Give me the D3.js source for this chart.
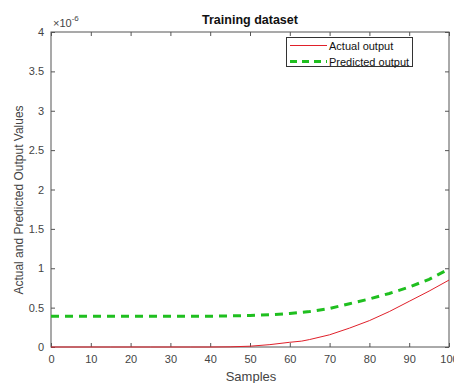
<!DOCTYPE html>
<html>
<head>
<meta charset="utf-8">
<script src="https://cdn.jsdelivr.net/npm/d3@7"></script>
<style>
body { margin: 0; background: #fff; }
text { font-family: "Liberation Sans", Arial, sans-serif; }
</style>
</head>
<body>
<script>
// samples and the two series (values in units of 1e-6)
var samples   = [0, 5, 10, 15, 20, 25, 30, 35, 40, 45, 50, 55, 60, 63, 65, 70, 75, 80, 85, 90, 95, 100];
var actual    = [0, 0, 0, 0, 0, 0, 0, 0, 0, 0.002, 0.01, 0.03, 0.06, 0.075, 0.095, 0.155, 0.24, 0.335, 0.45, 0.58, 0.71, 0.85];
var predicted = [0.39, 0.39, 0.39, 0.39, 0.39, 0.39, 0.39, 0.39, 0.39, 0.395, 0.40, 0.41, 0.425, 0.44, 0.45, 0.49, 0.55, 0.61, 0.68, 0.76, 0.86, 0.99];
var xTicks = [0, 10, 20, 30, 40, 50, 60, 70, 80, 90, 100];
var yTicks = [0, 0.5, 1, 1.5, 2, 2.5, 3, 3.5, 4];
var seriesNames = ["Actual output", "Predicted output"];

var W = 454, H = 383;
var m = {left: 51, right: 5, top: 32, bottom: 36};
var axCol = "#555", txtCol = "#444";

var svg = d3.select("body").append("svg").attr("width", W).attr("height", H);

var x = d3.scaleLinear().domain([0, 100]).range([m.left, W - m.right]);
var y = d3.scaleLinear().domain([0, 4]).range([H - m.bottom, m.top]);

// axes, ticks pointing inward, mirrored on top and right
function styleAxis(g) {
	g.select(".domain").remove();
	g.selectAll("line").attr("stroke", axCol);
	g.selectAll("text").attr("fill", txtCol).attr("font-size", 11);
}
svg.append("g").attr("transform", "translate(0," + (H - m.bottom) + ")")
	.call(d3.axisBottom(x).tickValues(xTicks).tickSizeInner(-4).tickSizeOuter(0).tickPadding(8))
	.call(styleAxis);
svg.append("g").attr("transform", "translate(0," + m.top + ")")
	.call(d3.axisTop(x).tickValues(xTicks).tickSizeInner(-4).tickSizeOuter(0).tickFormat(""))
	.call(styleAxis);
svg.append("g").attr("transform", "translate(" + m.left + ",0)")
	.call(d3.axisLeft(y).tickValues(yTicks).tickSizeInner(-4).tickSizeOuter(0).tickPadding(7).tickFormat(d3.format("~g")))
	.call(styleAxis);
svg.append("g").attr("transform", "translate(" + (W - m.right) + ",0)")
	.call(d3.axisRight(y).tickValues(yTicks).tickSizeInner(-4).tickSizeOuter(0).tickFormat(""))
	.call(styleAxis);

// box
svg.append("rect").attr("x", m.left).attr("y", m.top)
	.attr("width", W - m.left - m.right).attr("height", H - m.top - m.bottom)
	.attr("fill", "none").attr("stroke", axCol).attr("stroke-width", 1);

// lines
var line = d3.line().x(function(d) { return x(d[0]); }).y(function(d) { return y(d[1]); });
svg.append("path").datum(d3.zip(samples, predicted)).attr("d", line)
	.attr("fill", "none").attr("stroke", "#1fbf1f").attr("stroke-width", 3).attr("stroke-dasharray", "8,6");
svg.append("path").datum(d3.zip(samples, actual)).attr("d", line)
	.attr("fill", "none").attr("stroke", "#e0202a").attr("stroke-width", 1);

// exponent label
var ex = svg.append("text").attr("x", m.left + 2).attr("y", 27).attr("fill", txtCol).attr("font-size", 11);
ex.append("tspan").text("\u00d710");
ex.append("tspan").attr("dy", -6).attr("font-size", 8).text("-6");

// title and labels
svg.append("text").attr("x", 250).attr("y", 24).attr("text-anchor", "middle")
	.attr("font-size", 12.5).attr("font-weight", "bold").attr("fill", "#111").text("Training dataset");
svg.append("text").attr("x", 251).attr("y", 381).attr("text-anchor", "middle")
	.attr("font-size", 13).attr("fill", txtCol).text("Samples");
svg.append("text").attr("transform", "translate(23,200) rotate(-90)").attr("text-anchor", "middle")
	.attr("font-size", 12).attr("fill", txtCol).text("Actual and Predicted Output Values");

// legend
var lg = svg.append("g");
lg.append("rect").attr("x", 286.5).attr("y", 37.5).attr("width", 126).attr("height", 29)
	.attr("fill", "#fff").attr("stroke", "#333").attr("stroke-width", 1);
var legendStyles = [{c: "#e0202a", w: 1, d: null}, {c: "#1fbf1f", w: 3, d: "7,5"}];
seriesNames.forEach(function(name, i) {
	var ly = 45.5 + i * 16;
	lg.append("line").attr("x1", 290).attr("x2", 327).attr("y1", ly).attr("y2", ly)
		.attr("stroke", legendStyles[i].c).attr("stroke-width", legendStyles[i].w)
		.attr("stroke-dasharray", legendStyles[i].d);
	lg.append("text").attr("x", 329).attr("y", ly + 4).attr("font-size", 11)
		.attr("fill", "#111").text(name);
});
</script>
</body>
</html>
